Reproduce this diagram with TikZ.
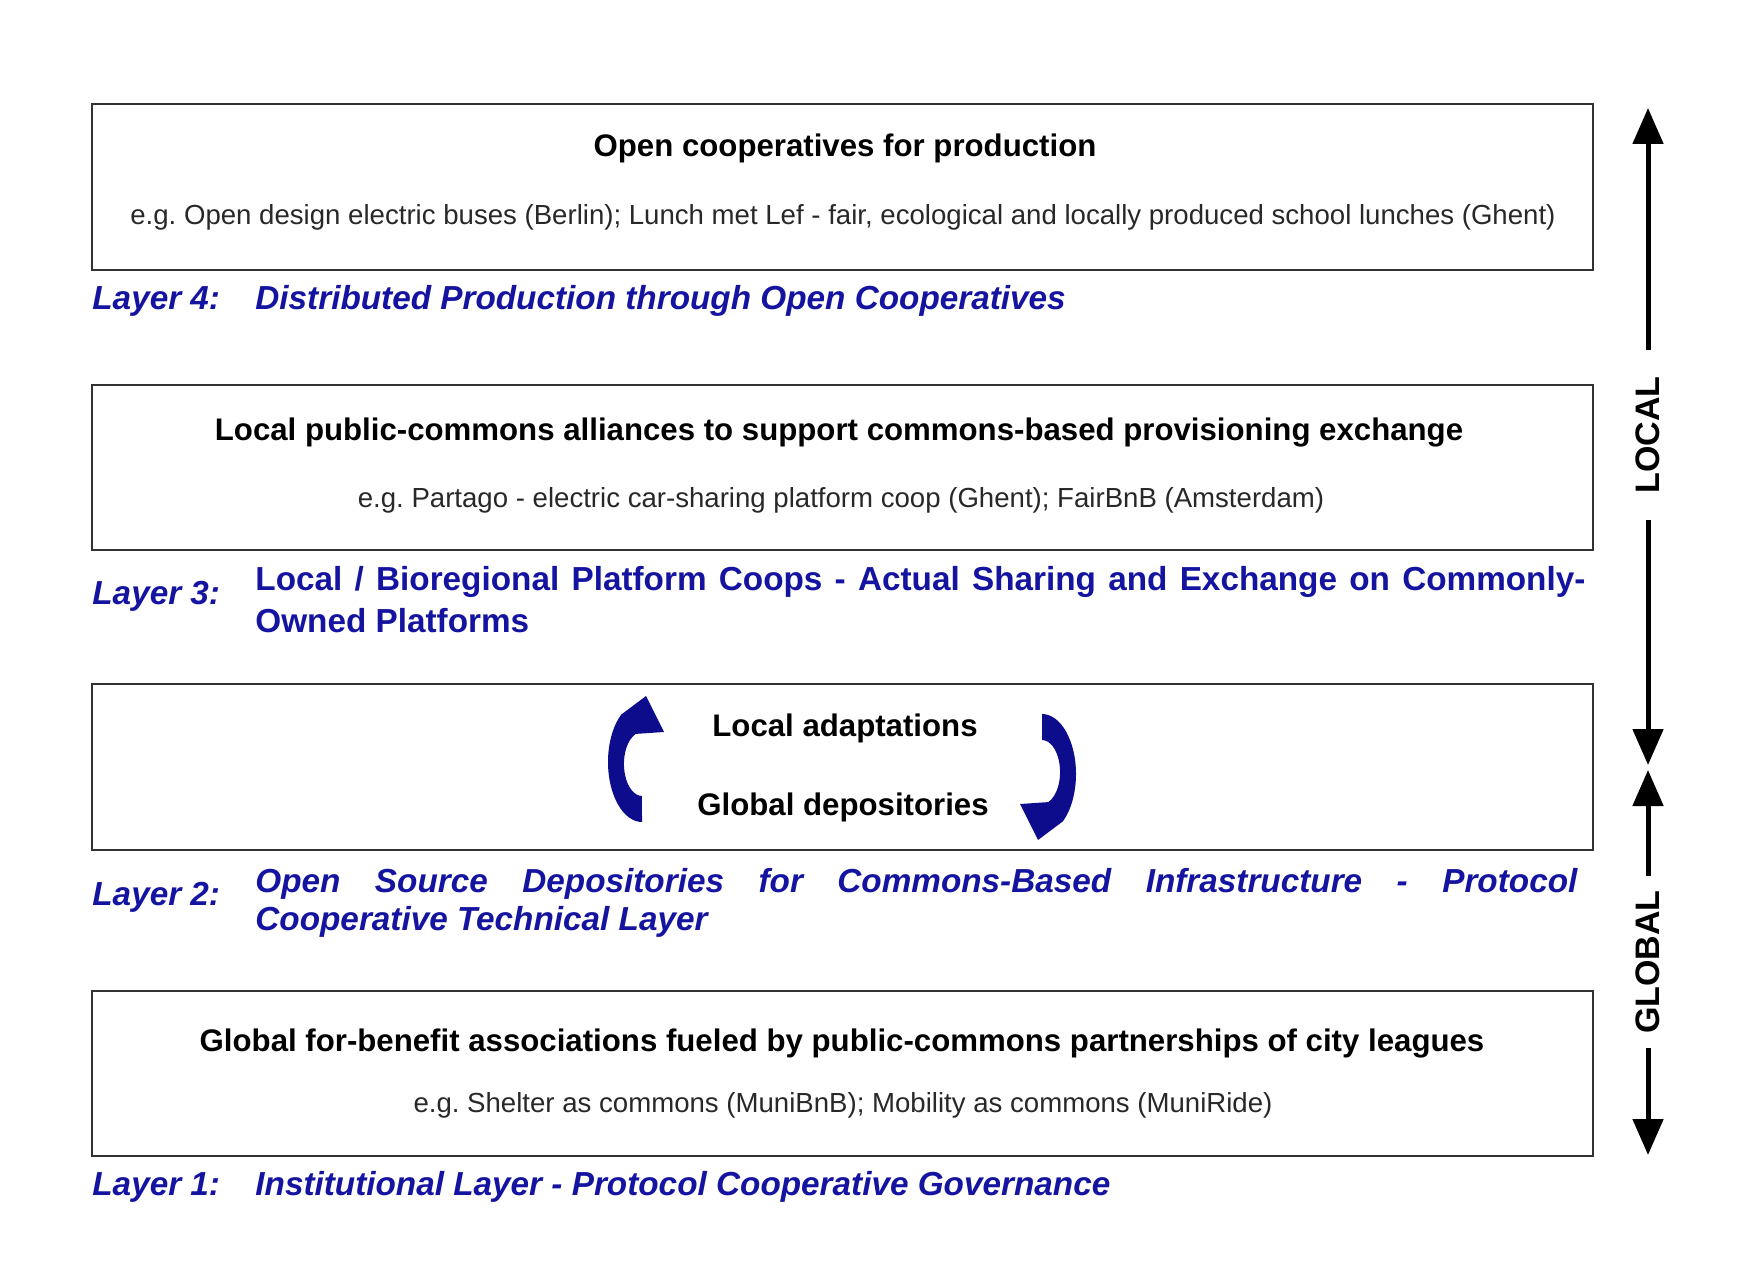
\documentclass[tikz,border=0pt]{standalone}
\usepackage{fontspec}
\setmainfont{Liberation Sans}
\usetikzlibrary{arrows.meta}
\definecolor{layerblue}{RGB}{20,20,160}
\definecolor{arrowblue}{RGB}{12,12,140}
\definecolor{boxline}{RGB}{50,50,50}
\definecolor{exgray}{RGB}{40,40,40}
\frenchspacing
% a thick elliptic band, flat at its lower end, with a head at its upper end
\newcommand{\cyclebandarrow}{%
  \fill[cyclearrow] (10,60)
    arc[start angle=90, end angle=232, x radius=34, y radius=60]
    -- (14,-66) -- (32,-30) -- (3.8,-28.1)
    arc[start angle=250, end angle=90, x radius=18, y radius=32]
    -- cycle;}
\begin{document}
\begin{tikzpicture}[x=0.5pt,y=-0.5pt,
  layerbox/.style={draw=boxline,line width=1pt},
  boxtitle/.style={anchor=base,inner sep=0pt,font=\fontsize{15.6}{18}\selectfont\bfseries},
  boxexample/.style={anchor=base,inner sep=0pt,text=exgray,font=\fontsize{13.8}{16}\selectfont},
  layertag/.style={anchor=base west,inner sep=0pt,text=layerblue,font=\fontsize{16.65}{20}\selectfont\bfseries\itshape},
  layertext/.style={anchor=base west,inner sep=0pt,text=layerblue,font=\fontsize{16.65}{20}\selectfont\bfseries\itshape},
  layertextup/.style={layertext,font=\fontsize{16.65}{20}\selectfont\bfseries},
  scalelabel/.style={rotate=90,inner sep=0pt,font=\fontsize{17}{20}\selectfont\bfseries},
  scalearrow/.style={line width=2.5pt,-{Triangle[length=18pt,width=15pt]}},
  cyclearrow/.style={fill=arrowblue}
]
\useasboundingbox (0,0) rectangle (1738,1267);

% the four layer boxes
\draw[layerbox] (92,104) rectangle (1593,270);
\draw[layerbox] (92,385) rectangle (1593,550);
\draw[layerbox] (92,684) rectangle (1593,850);
\draw[layerbox] (92,991) rectangle (1593,1156);

% box contents
\node[boxtitle] (t4) at (845,157) {Open cooperatives for production};
\node[boxexample] (e4) at (843,225) {e.g. Open design electric buses (Berlin); Lunch met Lef - fair, ecological and locally produced school lunches (Ghent)};

\node[boxtitle] (t3) at (839,440) {Local public-commons alliances to support commons-based provisioning exchange};
\node[boxexample] (e3) at (841,507) {e.g. Partago - electric car-sharing platform coop (Ghent); FairBnB (Amsterdam)};

\node[boxtitle] (t2a) at (845,736) {Local adaptations};
\node[boxtitle] (t2b) at (843,815) {Global depositories};

\node[boxtitle] (t1) at (842,1051) {Global for-benefit associations fueled by public-commons partnerships of city leagues};
\node[boxexample] (e1) at (843,1112) {e.g. Shelter as commons (MuniBnB); Mobility as commons (MuniRide)};

% layer captions
\node[layertag] (tag4) at (92,310) {Layer 4:};
\node[layertext] (txt4) at (255,310) {Distributed Production through Open Cooperatives};

\node[layertag] (tag3) at (92,604) {Layer 3:};
\node[layertextup] (txt3a) at (255,590) {\makebox[665pt][s]{Local / Bioregional Platform Coops - Actual Sharing and Exchange on Commonly-}};
\node[layertextup] (txt3b) at (255,632) {Owned Platforms};

\node[layertag] (tag2) at (92,905) {Layer 2:};
\node[layertext] (txt2a) at (255,892) {\makebox[661pt][s]{Open Source Depositories for Commons-Based Infrastructure - Protocol}};
\node[layertext] (txt2b) at (255,930) {Cooperative Technical Layer};

\node[layertag] (tag1) at (92,1195) {Layer 1:};
\node[layertext] (txt1) at (255,1195) {Institutional Layer - Protocol Cooperative Governance};

% circular arrows around the adaptation cycle
\begin{scope}[shift={(632,762)}]
  \cyclebandarrow
\end{scope}
\begin{scope}[shift={(1052,774)},rotate=180]
  \cyclebandarrow
\end{scope}

% local / global scale
\node[scalelabel,outer sep=13pt] (local) at (1648,435) {LOCAL};
\node[scalelabel,outer sep=7pt] (global) at (1648,962) {GLOBAL};
\coordinate (ltop) at (1648,108);
\coordinate (lbot) at (1648,765);
\coordinate (gtop) at (1648,770);
\coordinate (gbot) at (1648,1155);
\draw[scalearrow] (local.east) -- (ltop);
\draw[scalearrow] (local.west) -- (lbot);
\draw[scalearrow] (global.east) -- (gtop);
\draw[scalearrow] (global.west) -- (gbot);
\end{tikzpicture}
\end{document}
